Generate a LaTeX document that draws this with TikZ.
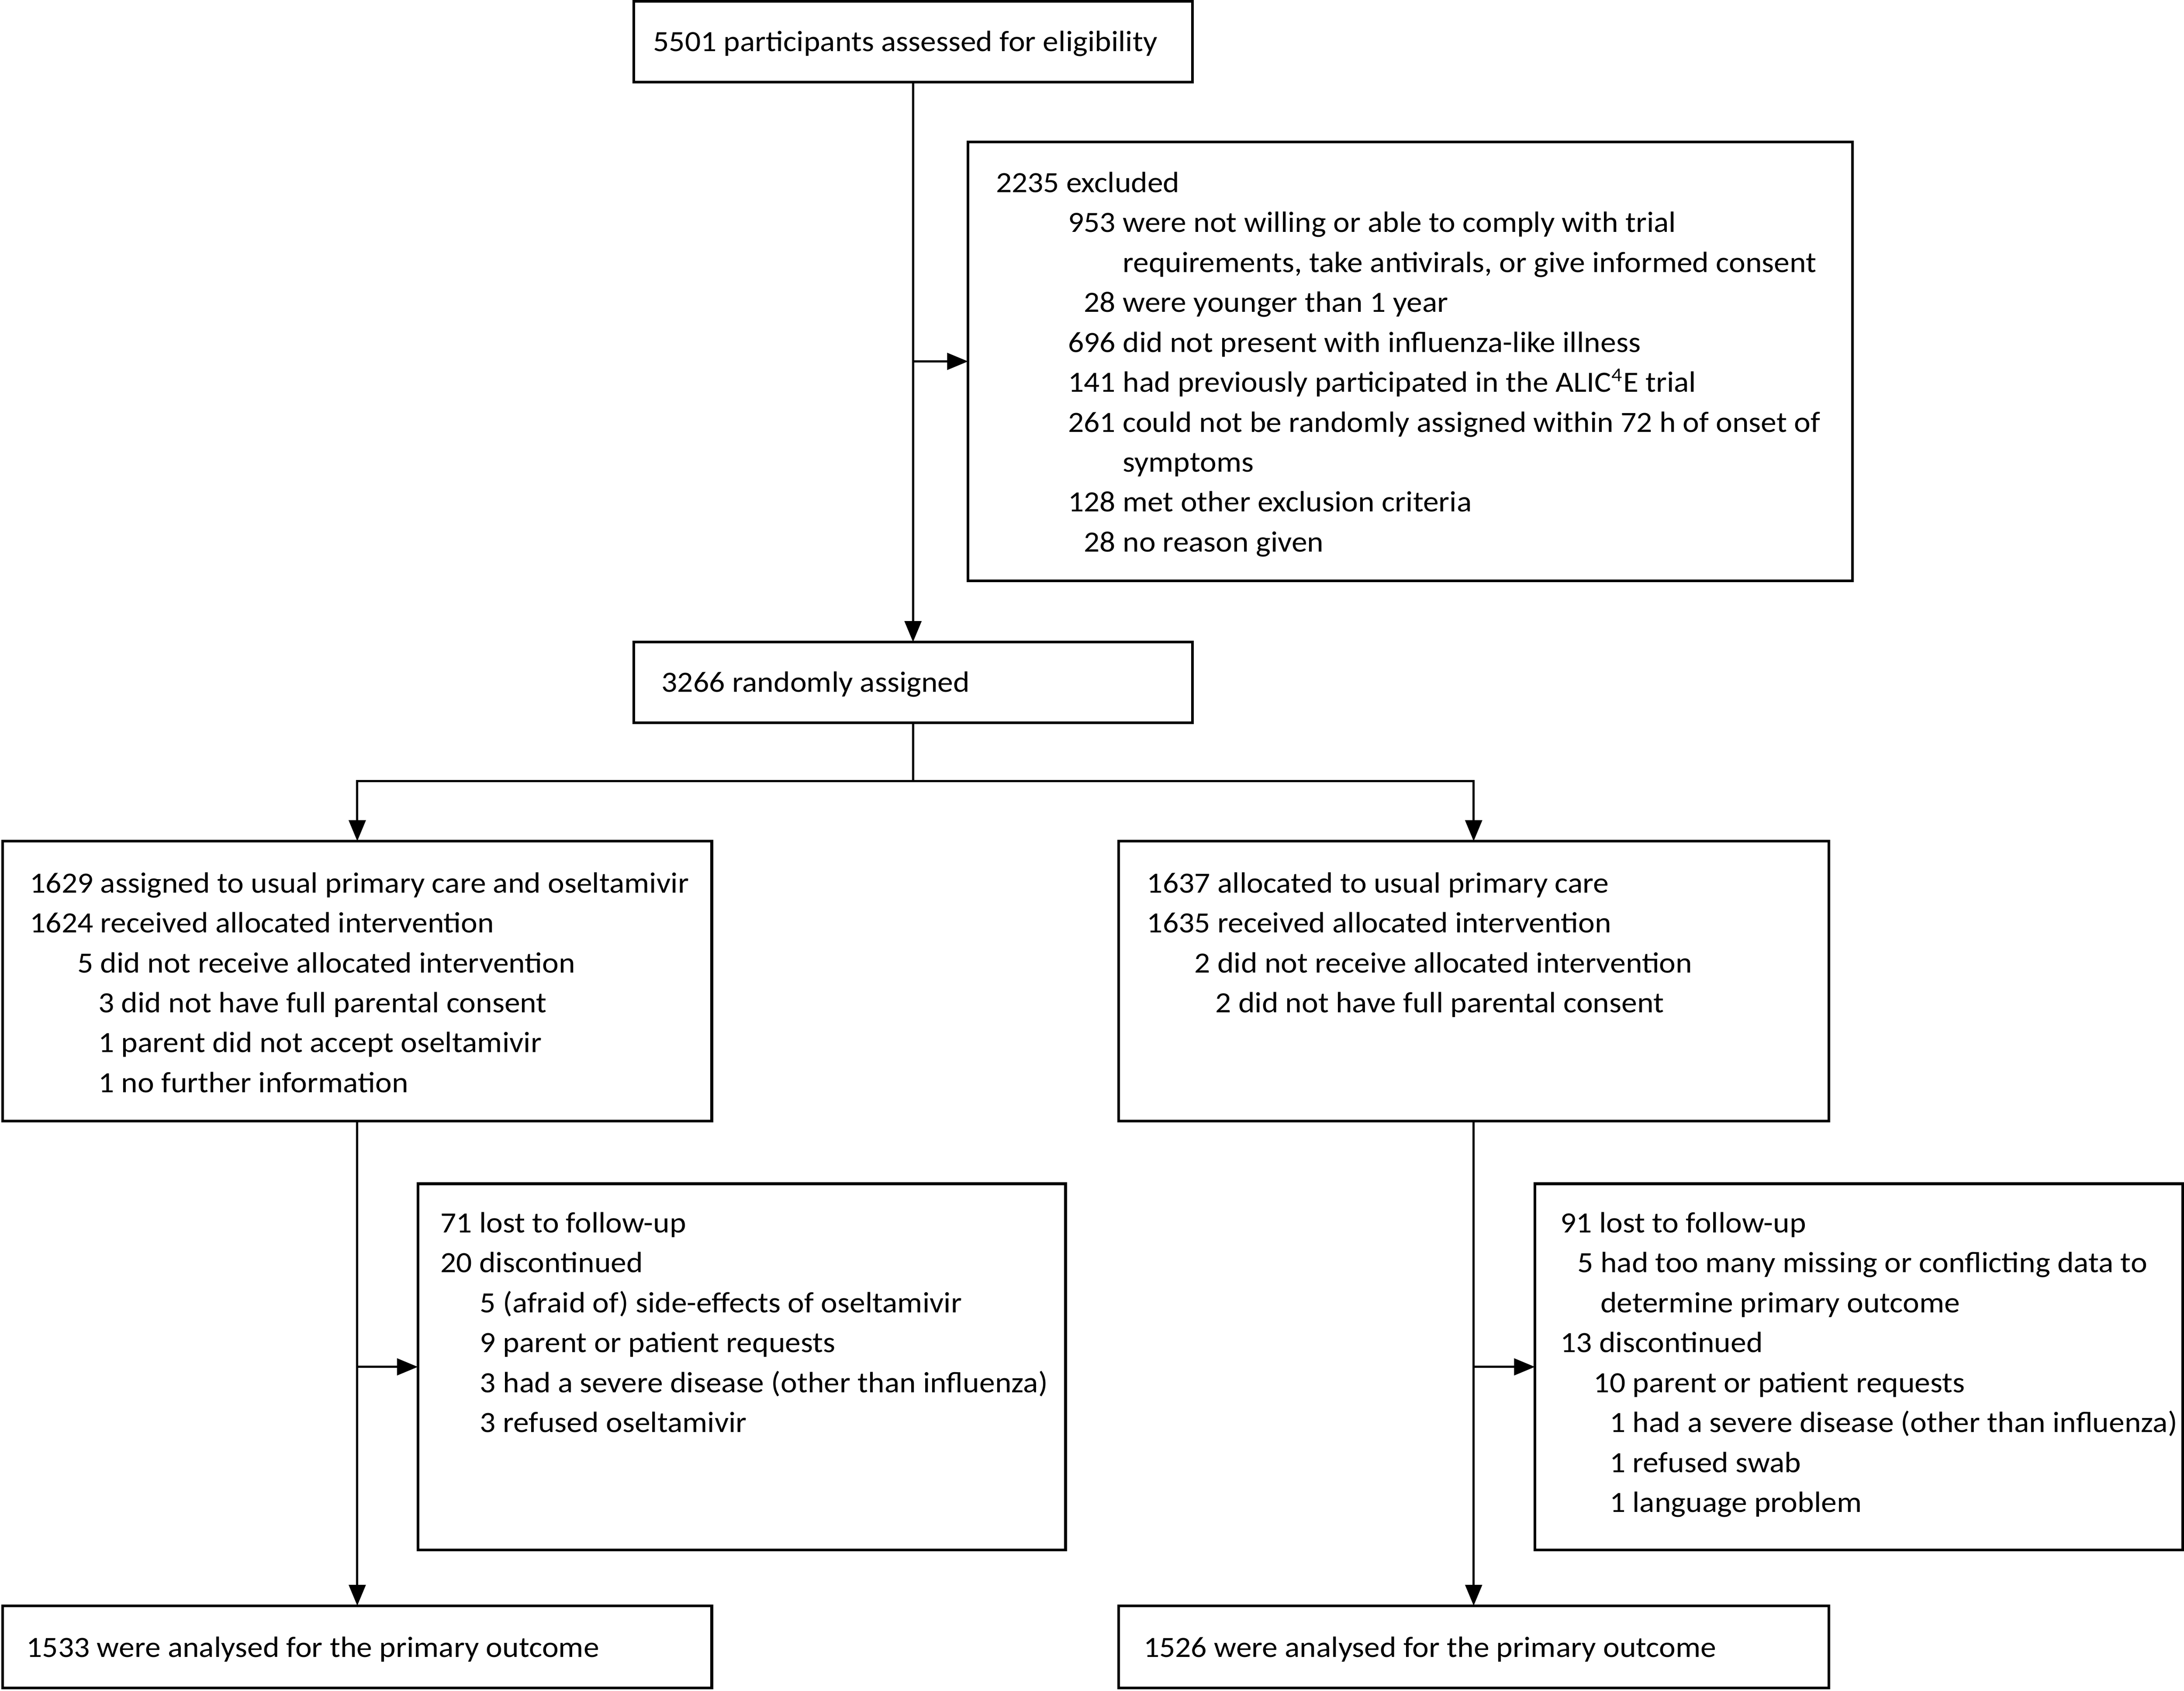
\documentclass[tikz,border=0pt]{standalone}
\usepackage{fontspec}
\setmainfont{Carlito}[FakeStretch=1.065]
\usetikzlibrary{arrows.meta}
\newlength\ux \setlength\ux{0.02cm}
\newcommand\nr[2]{\makebox[#1\ux][r]{#2}\ }
\tikzset{
  box/.style={draw, line width=1.1pt, inner sep=0pt, outer sep=0pt, anchor=north west},
  txt/.style={inner sep=0pt, outer sep=0pt, anchor=base west, font=\fontsize{12}{16.33}\selectfont},
  conn/.style={line width=0.9pt},
  arr/.style={conn, -{Triangle[length=0.3cm,width=0.24cm]}}
}
\begin{document}
\begin{tikzpicture}[x=0.02cm,y=-0.02cm]
\useasboundingbox[fill=white] (0,0) rectangle (1568,1214);
% boxes
\node[box, minimum width=401\ux, minimum height=58\ux] (b1) at (455,1) {};
\node[box, minimum width=635\ux, minimum height=315\ux] (b2) at (695,102) {};
\node[box, minimum width=401\ux, minimum height=58\ux] (b3) at (455,461) {};
\node[box, minimum width=509\ux, minimum height=201\ux] (bl) at (2,604) {};
\node[box, minimum width=510\ux, minimum height=201\ux] (br) at (803,604) {};
\node[box, minimum width=465\ux, minimum height=263\ux] (ll) at (300,850) {};
\node[box, minimum width=465\ux, minimum height=263\ux] (lr) at (1102,850) {};
\node[box, minimum width=509\ux, minimum height=59\ux] (al) at (2,1153) {};
\node[box, minimum width=510\ux, minimum height=59\ux] (ar) at (803,1153) {};
% texts
\node[txt] (t1) at (469,37) {5501 participants assessed for eligibility};
\node[txt] (t2) at (715,138) {\begin{tabular}[t]{@{}l@{}}
2235 excluded\\
\nr{86}{953}were not willing or able to comply with trial\\
\nr{86}{}requirements, take antivirals, or give informed consent\\
\nr{86}{28}were younger than 1 year\\
\nr{86}{696}did not present with influenza-like illness\\
\nr{86}{141}had previously participated in the ALIC\textsuperscript{4}E trial\\
\nr{86}{261}could not be randomly assigned within 72 h of onset of\\
\nr{86}{}symptoms\\
\nr{86}{128}met other exclusion criteria\\
\nr{86}{28}no reason given
\end{tabular}};
\node[txt] (t3) at (475,497) {3266 randomly assigned};
\node[txt] (t4) at (18,641) {\begin{tabular}[t]{@{}l@{}}
\nr{49}{1629}assigned to usual primary care and oseltamivir\\
\nr{49}{1624}received allocated intervention\\
\nr{49}{5}did not receive allocated intervention\\
\nr{64}{3}did not have full parental consent\\
\nr{64}{1}parent did not accept oseltamivir\\
\nr{64}{1}no further information
\end{tabular}};
\node[txt] (t5) at (820,641) {\begin{tabular}[t]{@{}l@{}}
\nr{49}{1637}allocated to usual primary care\\
\nr{49}{1635}received allocated intervention\\
\nr{49}{2}did not receive allocated intervention\\
\nr{64}{2}did not have full parental consent
\end{tabular}};
\node[txt] (t6) at (317,885) {\begin{tabular}[t]{@{}l@{}}
\nr{22}{71}lost to follow-up\\
\nr{22}{20}discontinued\\
\nr{39}{5}(afraid of) side-effects of oseltamivir\\
\nr{39}{9}parent or patient requests\\
\nr{39}{3}had a severe disease (other than influenza)\\
\nr{39}{3}refused oseltamivir
\end{tabular}};
\node[txt] (t7) at (1121,885) {\begin{tabular}[t]{@{}l@{}}
\nr{22}{91}lost to follow-up\\
\nr{23}{5}had too many missing or conflicting data to\\
\nr{23}{}determine primary outcome\\
\nr{22}{13}discontinued\\
\nr{46}{10}parent or patient requests\\
\nr{46}{1}had a severe disease (other than influenza)\\
\nr{46}{1}refused swab\\
\nr{46}{1}language problem
\end{tabular}};
\node[txt] (t8) at (19,1190) {1533 were analysed for the primary outcome};
\node[txt] (t9) at (821,1190) {1526 were analysed for the primary outcome};
% connectors
\draw[arr] (b1.south) -- (b3.north);
\draw[arr] (b2.west -| b1.south) -- (b2.west);
\coordinate (split) at (b3.south |- 0,561);
\draw[conn] (b3.south) -- (split);
\draw[arr] (split) -| (bl.north);
\draw[arr] (split) -| (br.north);
\draw[arr] (bl.south) -- (al.north);
\draw[arr] (ll.west -| bl.south) -- (ll.west);
\draw[arr] (br.south) -- (ar.north);
\draw[arr] (lr.west -| br.south) -- (lr.west);
\end{tikzpicture}
\end{document}
